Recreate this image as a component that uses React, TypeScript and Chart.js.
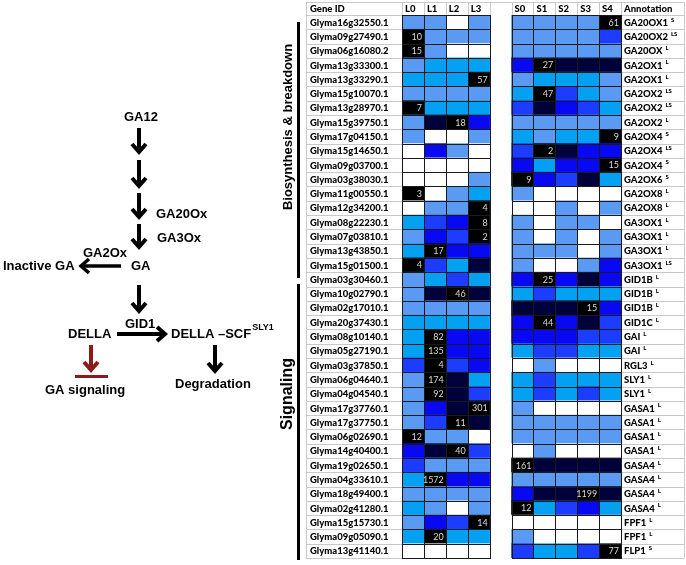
import React, { useEffect, useRef } from 'react';
import { Chart, registerables } from 'chart.js';

Chart.register(...registerables);

const geneIds = [
  'Glyma16g32550.1', 'Glyma09g27490.1', 'Glyma06g16080.2', 'Glyma13g33300.1', 'Glyma13g33290.1',
  'Glyma15g10070.1', 'Glyma13g28970.1', 'Glyma15g39750.1', 'Glyma17g04150.1', 'Glyma15g14650.1',
  'Glyma09g03700.1', 'Glyma03g38030.1', 'Glyma11g00550.1', 'Glyma12g34200.1', 'Glyma08g22230.1',
  'Glyma07g03810.1', 'Glyma13g43850.1', 'Glyma15g01500.1', 'Glyma03g30460.1', 'Glyma10g02790.1',
  'Glyma02g17010.1', 'Glyma20g37430.1', 'Glyma08g10140.1', 'Glyma05g27190.1', 'Glyma03g37850.1',
  'Glyma06g04640.1', 'Glyma04g04540.1', 'Glyma17g37760.1', 'Glyma17g37750.1', 'Glyma06g02690.1',
  'Glyma14g40400.1', 'Glyma19g02650.1', 'Glyma04g33610.1', 'Glyma18g49400.1', 'Glyma02g41280.1',
  'Glyma15g15730.1', 'Glyma09g05090.1', 'Glyma13g41140.1',
];

const annotations = [
  'GA20OX1', 'GA20OX2', 'GA20OX', 'GA2OX1', 'GA2OX1', 'GA2OX2', 'GA2OX2', 'GA2OX2', 'GA2OX4', 'GA2OX4',
  'GA2OX4', 'GA2OX6', 'GA2OX8', 'GA2OX8', 'GA3OX1', 'GA3OX1', 'GA3OX1', 'GA3OX1', 'GID1B', 'GID1B',
  'GID1B', 'GID1C', 'GAI', 'GAI', 'RGL3', 'SLY1', 'SLY1', 'GASA1', 'GASA1', 'GASA1',
  'GASA1', 'GASA4', 'GASA4', 'GASA4', 'GASA4', 'FPF1', 'FPF1', 'FLP1',
];

const annotationTags = [
  'S', 'LS', 'L', 'L', 'L', 'LS', 'LS', 'L', 'S', 'LS',
  'S', 'S', 'L', 'L', 'L', 'L', 'L', 'LS', 'L', 'L',
  'L', 'L', 'L', 'L', 'L', 'L', 'L', 'L', 'L', 'L',
  'L', 'L', 'L', 'L', 'L', 'L', 'L', 'S',
];

const columnLabels = ['L0', 'L1', 'L2', 'L3', 'S0', 'S1', 'S2', 'S3', 'S4'];

// expression level class per cell: 0 white .. 5 navy, 6 = peak (black, labelled)
const levels: number[][] = [
  [1, 1, 0, 1, 1, 1, 1, 1, 6],
  [6, 1, 1, 1, 1, 1, 1, 1, 3],
  [6, 1, 0, 0, 1, 1, 1, 1, 1],
  [1, 2, 2, 2, 4, 6, 5, 5, 5],
  [2, 2, 2, 6, 1, 2, 2, 2, 1],
  [1, 1, 1, 1, 2, 6, 3, 2, 1],
  [6, 2, 2, 2, 3, 5, 4, 3, 2],
  [1, 5, 6, 4, 1, 1, 1, 1, 1],
  [1, 0, 0, 1, 2, 1, 2, 2, 6],
  [0, 4, 1, 0, 3, 6, 5, 4, 4],
  [0, 0, 0, 0, 4, 2, 4, 4, 6],
  [0, 0, 0, 1, 6, 4, 3, 5, 2],
  [6, 0, 1, 2, 1, 0, 0, 0, 0],
  [0, 1, 1, 6, 0, 0, 1, 0, 1],
  [2, 3, 4, 6, 1, 0, 1, 1, 0],
  [1, 4, 3, 6, 1, 0, 1, 0, 1],
  [2, 6, 4, 4, 1, 1, 1, 0, 1],
  [6, 3, 2, 5, 1, 0, 0, 1, 4],
  [1, 2, 3, 2, 4, 6, 4, 5, 4],
  [1, 5, 6, 5, 2, 3, 2, 2, 2],
  [1, 1, 1, 1, 5, 5, 5, 6, 4],
  [2, 2, 2, 2, 4, 6, 4, 5, 3],
  [2, 6, 4, 4, 4, 4, 4, 3, 3],
  [2, 6, 4, 4, 2, 3, 3, 2, 2],
  [3, 6, 3, 4, 0, 1, 0, 0, 0],
  [1, 6, 5, 2, 2, 3, 2, 2, 2],
  [1, 6, 5, 3, 2, 3, 2, 3, 2],
  [1, 4, 5, 6, 1, 0, 0, 0, 0],
  [1, 3, 6, 5, 1, 1, 1, 1, 1],
  [6, 1, 1, 0, 1, 1, 1, 1, 1],
  [4, 5, 6, 3, 0, 1, 0, 0, 0],
  [3, 1, 1, 1, 6, 5, 5, 5, 5],
  [2, 6, 4, 4, 1, 1, 1, 1, 1],
  [1, 1, 1, 1, 4, 5, 5, 6, 5],
  [2, 1, 0, 1, 6, 2, 3, 4, 2],
  [1, 4, 3, 6, 0, 0, 0, 0, 0],
  [2, 6, 2, 2, 1, 0, 0, 0, 0],
  [0, 0, 0, 0, 3, 2, 2, 3, 6],
];

const peakValues = [
  61, 10, 15, 27, 57, 47, 7, 18, 9, 2,
  15, 9, 3, 4, 8, 2, 17, 4, 25, 46,
  15, 44, 82, 135, 4, 174, 92, 301, 11, 12,
  40, 161, 1572, 1199, 12, 14, 20, 77,
];

const levelColors = ['#FFFFFF', '#5A9AF2', '#04A0F2', '#1C3CFF', '#0808F2', '#00003A', '#000000'];

const TABLE_FONT = 'Lato, "Liberation Sans", sans-serif';
const DIAG_FONT = '"Liberation Sans", Arial, sans-serif';

const colStart = (c: number) => (c < 4 ? c : c + 1);

const tablePlugin = {
  id: 'tableDecor',
  afterDatasetsDraw(chart: any) {
    const ctx: CanvasRenderingContext2D = chart.ctx;
    const xs = chart.scales.x;
    const ys = chart.scales.y;
    const area = chart.chartArea;
    const n = geneIds.length;
    const rowH = (area.bottom - area.top) / n;
    const rowTop = (r: number) => ys.getPixelForValue(r) - rowH / 2;
    const px = (v: number) => Math.round(v) + 0.5;

    ctx.save();
    const gLeft = 306;
    const aRight = 684;
    const headerTop = 2;
    ctx.strokeStyle = '#c9c9c9';
    ctx.lineWidth = 1;
    for (let r = 0; r <= n; r++) {
      const y = px(r === n ? area.bottom : rowTop(r));
      ctx.beginPath();
      ctx.moveTo(gLeft, y);
      ctx.lineTo(area.left, y);
      ctx.moveTo(area.right, y);
      ctx.lineTo(aRight, y);
      ctx.stroke();
    }
    ctx.beginPath();
    ctx.moveTo(gLeft, px(headerTop));
    ctx.lineTo(aRight, px(headerTop));
    ctx.moveTo(px(gLeft), headerTop);
    ctx.lineTo(px(gLeft), area.bottom);
    ctx.moveTo(px(aRight), headerTop);
    ctx.lineTo(px(aRight), area.bottom);
    for (let c = 0; c <= 10; c++) {
      const x = px(xs.getPixelForValue(c));
      ctx.moveTo(x, headerTop);
      ctx.lineTo(x, area.top);
    }
    ctx.stroke();

    // dark heat-map grid
    ctx.strokeStyle = '#1a1a1a';
    ctx.beginPath();
    const blocks = [[0, 4], [5, 10]];
    for (const [a, b] of blocks) {
      const x0 = xs.getPixelForValue(a);
      const x1 = xs.getPixelForValue(b);
      for (let c = a; c <= b; c++) {
        const x = px(xs.getPixelForValue(c));
        ctx.moveTo(x, area.top);
        ctx.lineTo(x, area.bottom);
      }
      for (let r = 0; r <= n; r++) {
        const y = px(r === n ? area.bottom : rowTop(r));
        ctx.moveTo(Math.round(x0), y);
        ctx.lineTo(Math.round(x1) + 1, y);
      }
    }
    ctx.stroke();

    const boldFont = `900 9.5px ${TABLE_FONT}`;
    ctx.fillStyle = '#000';
    ctx.font = boldFont;
    ctx.textBaseline = 'middle';
    ctx.textAlign = 'left';
    const hy = (headerTop + area.top) / 2 + 0.5;
    ctx.fillText('Gene ID', 310, hy);
    columnLabels.forEach((lab, c) => {
      ctx.fillText(lab, xs.getPixelForValue(colStart(c)) + 3, hy);
    });
    ctx.fillText('Annotation', area.right + 3, hy);

    for (let r = 0; r < n; r++) {
      const yc = ys.getPixelForValue(r) + 0.5;
      ctx.font = boldFont;
      ctx.fillStyle = '#000';
      ctx.textAlign = 'left';
      ctx.fillText(geneIds[r], 310, yc);
      const ax = area.right + 3;
      ctx.fillText(annotations[r], ax, yc);
      const w = ctx.measureText(annotations[r]).width;
      ctx.font = `900 6px ${TABLE_FONT}`;
      ctx.fillText(annotationTags[r], ax + w + 3, yc - 3);

      const c = levels[r].indexOf(6);
      if (c >= 0) {
        ctx.font = `9px ${TABLE_FONT}`;
        ctx.fillStyle = '#d8d8d8';
        ctx.textAlign = 'right';
        ctx.fillText(String(peakValues[r]), xs.getPixelForValue(colStart(c) + 1) - 2, yc);
      }
    }
    ctx.restore();
  },
  afterDraw(chart: any) {
    const ctx: CanvasRenderingContext2D = chart.ctx;
    ctx.save();
    ctx.fillStyle = '#000';
    ctx.fillRect(297, 22, 3, 256);
    ctx.fillRect(297, 284, 3, 276);
    ctx.font = `bold 13px ${DIAG_FONT}`;
    ctx.textAlign = 'center';
    ctx.textBaseline = 'middle';
    ctx.save();
    ctx.translate(288, 127);
    ctx.rotate(-Math.PI / 2);
    ctx.fillText('Biosynthesis & breakdown', 0, 0);
    ctx.restore();
    ctx.save();
    ctx.translate(288, 394);
    ctx.rotate(-Math.PI / 2);
    ctx.font = `bold 16px ${DIAG_FONT}`;
    ctx.fillText('Signaling', 0, 0);
    ctx.restore();

    const down = (x: number, y0: number, y1: number, color = '#000') => {
      ctx.strokeStyle = color;
      ctx.lineWidth = 4;
      ctx.lineCap = 'butt';
      ctx.lineJoin = 'miter';
      ctx.beginPath();
      ctx.moveTo(x, y0);
      ctx.lineTo(x, y1 - 2);
      ctx.stroke();
      ctx.beginPath();
      ctx.moveTo(x - 7, y1 - 9);
      ctx.lineTo(x, y1 - 1);
      ctx.lineTo(x + 7, y1 - 9);
      ctx.stroke();
    };
    const horiz = (x0: number, x1: number, y: number, w: number) => {
      const d = x1 > x0 ? 1 : -1;
      ctx.strokeStyle = '#000';
      ctx.lineWidth = w;
      ctx.lineJoin = 'miter';
      ctx.beginPath();
      ctx.moveTo(x0, y);
      ctx.lineTo(x1 - d * 2, y);
      ctx.stroke();
      ctx.beginPath();
      ctx.moveTo(x1 - d * 9, y - 7);
      ctx.lineTo(x1 - d, y);
      ctx.lineTo(x1 - d * 9, y + 7);
      ctx.stroke();
    };

    ctx.fillStyle = '#000';
    ctx.textAlign = 'left';
    ctx.textBaseline = 'middle';
    ctx.font = `bold 13px ${DIAG_FONT}`;
    ctx.fillText('GA12', 124, 117);
    down(139, 128, 153);
    down(139, 160, 187);
    down(139, 193, 218);
    down(139, 224, 248);
    ctx.fillText('GA20Ox', 156, 214);
    ctx.fillText('GA3Ox', 157, 238);
    ctx.fillText('GA2Ox', 83, 253);
    ctx.fillText('Inactive GA', 3, 266);
    ctx.fillText('GA', 131, 266);
    horiz(121, 80, 266, 3.5);
    down(139, 285, 312);
    ctx.fillText('GID1', 125, 324);
    ctx.fillText('DELLA', 68, 334);
    horiz(117, 166, 334, 4);
    ctx.fillText('DELLA \u2013SCF', 171, 334);
    const w = ctx.measureText('DELLA \u2013SCF').width;
    ctx.font = `bold 9px ${DIAG_FONT}`;
    ctx.fillText('SLY1', 171 + w + 1, 328);
    ctx.font = `bold 13px ${DIAG_FONT}`;
    down(91, 345, 371, '#8B1A1A');
    ctx.fillStyle = '#8B1A1A';
    ctx.fillRect(75, 375, 33, 3);
    ctx.fillStyle = '#000';
    ctx.fillText('GA signaling', 45, 390);
    down(215, 345, 372);
    ctx.fillText('Degradation', 175, 384);
    ctx.restore();
  },
};

export default function App() {
  const ref = useRef<HTMLCanvasElement>(null);
  useEffect(() => {
    const datasets = columnLabels.map((lab, c) => ({
      label: lab,
      data: geneIds.map(() => [colStart(c), colStart(c) + 1] as [number, number]),
      backgroundColor: levels.map((row) => levelColors[row[c]]),
      borderWidth: 0,
      barPercentage: 1,
      categoryPercentage: 1,
      grouped: false,
    }));
    const chart = new Chart(ref.current as HTMLCanvasElement, {
      type: 'bar',
      data: { labels: geneIds, datasets: datasets as any },
      options: {
        indexAxis: 'y',
        responsive: false,
        animation: false,
        devicePixelRatio: 1,
        layout: { padding: { left: 402, right: 65, top: 15, bottom: 7 } },
        scales: {
          x: { type: 'linear', min: 0, max: 10, display: false },
          y: { type: 'category', display: false, offset: true },
        },
        plugins: { legend: { display: false }, tooltip: { enabled: false } },
      },
      plugins: [tablePlugin],
    });
    return () => chart.destroy();
  }, []);
  return (
    <div style={{ position: 'fixed', left: 0, top: 0, width: 686, height: 565, background: '#fff' }}>
      <canvas ref={ref} width={686} height={565} style={{ width: 686, height: 565 }} />
    </div>
  );
}
